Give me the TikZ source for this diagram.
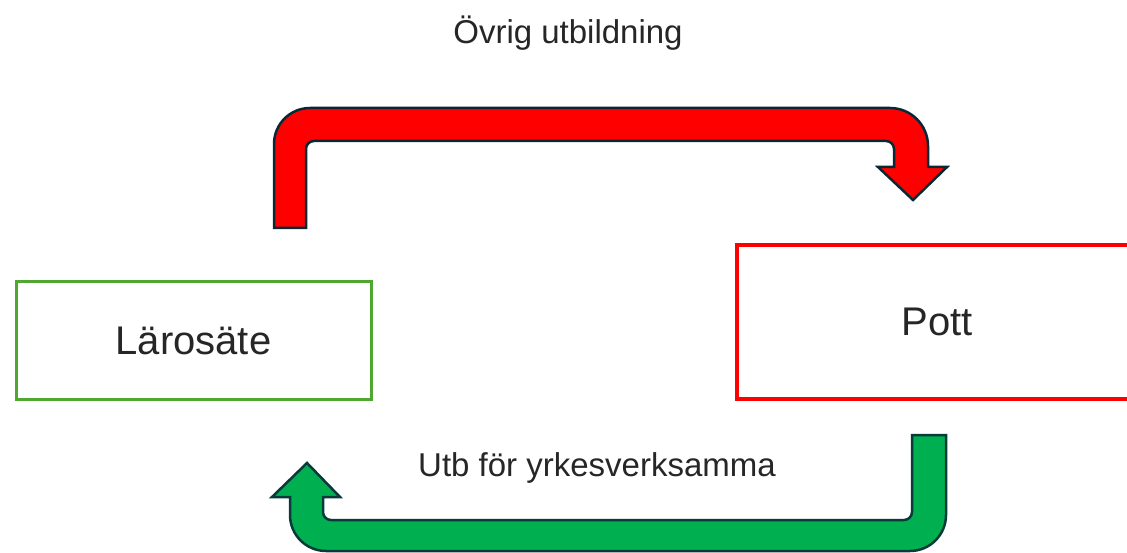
\documentclass[tikz,border=0pt]{standalone}
\usepackage{fontspec}
\setmainfont{Liberation Sans}

\begin{document}
\begin{tikzpicture}[x=1pt,y=-1pt,
boxtext/.style={font=\fontsize{40}{44}\selectfont,text=textgray},
labeltext/.style={font=\fontsize{33}{36}\selectfont,text=textgray},
greenbox/.style={draw=boxgreen,line width=3pt,minimum width=355pt,minimum height=117pt,inner sep=0pt},
redbox/.style={draw=red,line width=3.5pt,minimum width=400pt,minimum height=154pt,inner sep=0pt},
blockarrow/.style={line width=2.5pt,line join=miter}]

\definecolor{boxgreen}{RGB}{78,167,46}
\definecolor{arrowgreen}{RGB}{0,176,80}
\definecolor{redline}{RGB}{10,40,52}
\definecolor{greenline}{RGB}{8,58,58}
\definecolor{textgray}{RGB}{38,38,38}

\useasboundingbox (0,0) rectangle (1127,553);

% Boxes
\node[greenbox,boxtext] (larosate) at (193.5,340.5) {Lärosäte};
\node[redbox,boxtext] (pott) at (937,322) {Pott};

% Labels
\node[labeltext] (ovrig) at (568,33) {Övrig utbildning};
\node[labeltext] (utb) at (597,468) {Utb för yrkesverksamma};

% Upper arrow
\draw[blockarrow,draw=redline,fill=red] (274,228) -- (274,144)
    .. controls (274,124.1) and (290.1,108) .. (310,108)
    -- (890,108) .. controls (911,108) and (928,125) .. (928,146)
    -- (928,167) -- (947,167) -- (913,200) -- (878,167) -- (894,167) -- (894,149)
    .. controls (894,144.6) and (890.4,141) .. (886,141)
    -- (314,141) .. controls (309.6,141) and (306,144.6) .. (306,149)
    -- (306,228) -- cycle;

% Lower arrow
\draw[blockarrow,draw=greenline,fill=arrowgreen] (912,435) -- (946,435) -- (946,515)
    .. controls (946,534.9) and (929.9,551) .. (910,551)
    -- (326,551) .. controls (306.1,551) and (290,534.9) .. (290,515)
    -- (290,497) -- (272,497) -- (307,463) -- (340,497) -- (323,497) -- (323,512)
    .. controls (323,516.4) and (326.6,520) .. (331,520)
    -- (904,520) .. controls (908.4,520) and (912,516.4) .. (912,512) -- cycle;

\end{tikzpicture}
\end{document}
